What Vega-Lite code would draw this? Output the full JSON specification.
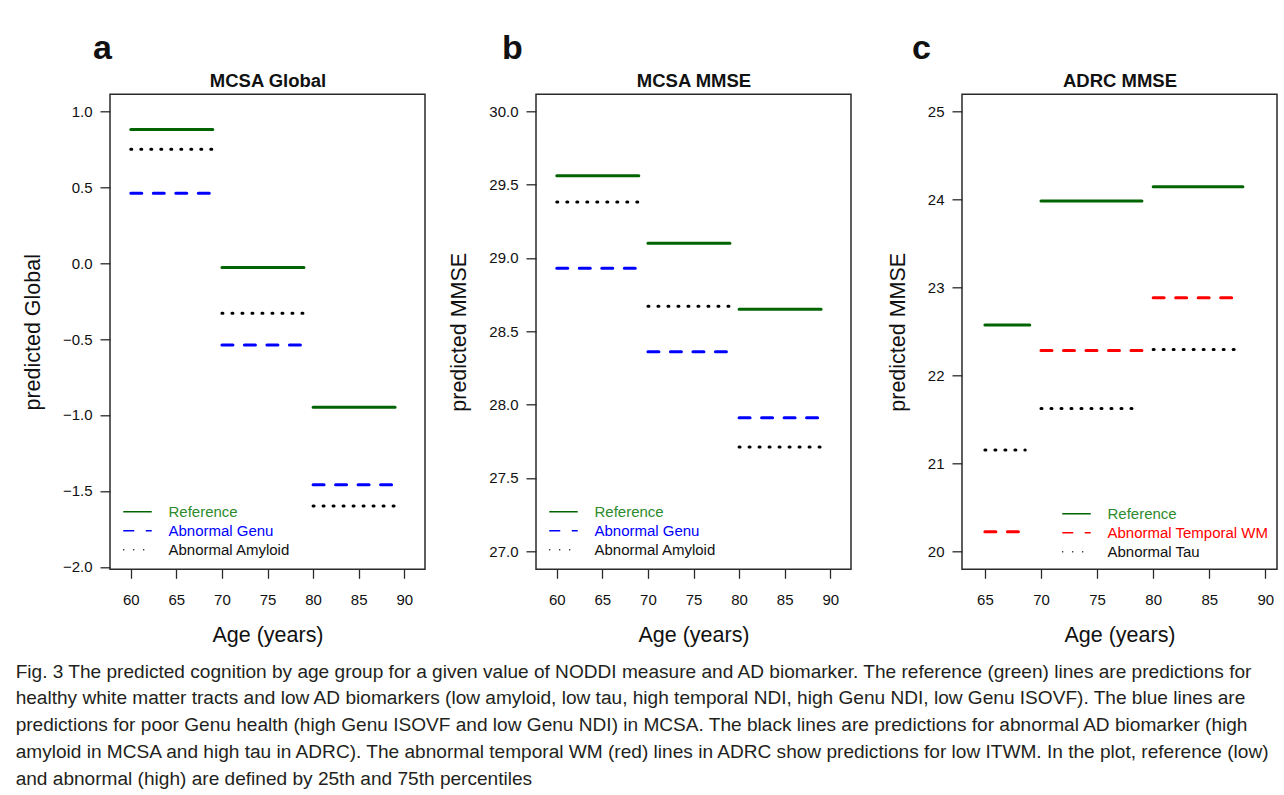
{
  "$schema": "https://vega.github.io/schema/vega-lite/v6.json",
  "background": "white",
  "autosize": {"type": "pad"},
  "padding": {"left": 15, "top": 30.3, "right": 0, "bottom": 4},
  "datasets": {
    "mcsa_global": [
      {"series": "Reference", "start": 60, "end": 69, "value": 0.88},
      {"series": "Reference", "start": 70, "end": 79, "value": -0.03},
      {"series": "Reference", "start": 80, "end": 89, "value": -0.95},
      {"series": "Abnormal Genu", "start": 60, "end": 69, "value": 0.46},
      {"series": "Abnormal Genu", "start": 70, "end": 79, "value": -0.54},
      {"series": "Abnormal Genu", "start": 80, "end": 89, "value": -1.46},
      {"series": "Abnormal Amyloid", "start": 60, "end": 69, "value": 0.75},
      {"series": "Abnormal Amyloid", "start": 70, "end": 79, "value": -0.33},
      {"series": "Abnormal Amyloid", "start": 80, "end": 89, "value": -1.60}
    ],
    "mcsa_mmse": [
      {"series": "Reference", "start": 60, "end": 69, "value": 29.56},
      {"series": "Reference", "start": 70, "end": 79, "value": 29.10},
      {"series": "Reference", "start": 80, "end": 89, "value": 28.65},
      {"series": "Abnormal Genu", "start": 60, "end": 69, "value": 28.93},
      {"series": "Abnormal Genu", "start": 70, "end": 79, "value": 28.36},
      {"series": "Abnormal Genu", "start": 80, "end": 89, "value": 27.91},
      {"series": "Abnormal Amyloid", "start": 60, "end": 69, "value": 29.38},
      {"series": "Abnormal Amyloid", "start": 70, "end": 79, "value": 28.67},
      {"series": "Abnormal Amyloid", "start": 80, "end": 89, "value": 27.71}
    ],
    "adrc_mmse": [
      {"series": "Reference", "start": 65, "end": 69, "value": 22.57},
      {"series": "Reference", "start": 70, "end": 79, "value": 23.98},
      {"series": "Reference", "start": 80, "end": 88, "value": 24.14},
      {"series": "Abnormal Temporal WM", "start": 65, "end": 68.3, "value": 20.22},
      {"series": "Abnormal Temporal WM", "start": 70, "end": 79, "value": 22.28},
      {"series": "Abnormal Temporal WM", "start": 80, "end": 87.3, "value": 22.88},
      {"series": "Abnormal Tau", "start": 65, "end": 68.6, "value": 21.15},
      {"series": "Abnormal Tau", "start": 70, "end": 78.6, "value": 21.62},
      {"series": "Abnormal Tau", "start": 80, "end": 87.6, "value": 22.29}
    ]
  },
  "title": {
    "text": "Fig. 3  The predicted cognition by age group for a given value of NODDI measure and AD biomarker. The reference (green) lines are predictions for",
    "subtitle": [
      "healthy white matter tracts and low AD biomarkers (low amyloid, low tau, high temporal NDI, high Genu NDI, low Genu ISOVF). The blue lines are",
      "predictions for poor Genu health (high Genu ISOVF and low Genu NDI) in MCSA. The black lines are predictions for abnormal AD biomarker (high",
      "amyloid in MCSA and high tau in ADRC). The abnormal temporal WM (red) lines in ADRC show predictions for low ITWM. In the plot, reference (low)",
      "and abnormal (high) are defined by 25th and 75th percentiles"
    ],
    "orient": "bottom",
    "anchor": "start",
    "frame": "bounds",
    "dx": -6,
    "offset": 16,
    "font": "Liberation Sans",
    "fontSize": 19.1,
    "fontWeight": "normal",
    "color": "#231f20",
    "subtitleFont": "Liberation Sans",
    "subtitleFontSize": 19.1,
    "subtitleFontWeight": "normal",
    "subtitleColor": "#231f20",
    "subtitleLineHeight": 26.75,
    "subtitlePadding": 7.65
  },
  "bounds": "flush",
  "spacing": 111,
  "resolve": {"scale": {"color": "independent", "strokeDash": "independent"}},
  "hconcat": [
    {
      "width": 315,
      "height": 475,
      "data": {"name": "mcsa_global"},
      "title": {"text": "a", "anchor": "start", "frame": "group", "dx": -17, "offset": 5.5},
      "layer": [
        {
          "mark": {"type": "rule", "strokeWidth": 3, "strokeCap": "round"},
          "encoding": {
            "x": {"field": "start", "type": "quantitative",
                  "scale": {"domain": [57.72, 92.28], "nice": false, "zero": false},
                  "axis": {"orient": "bottom", "values": [60, 65, 70, 75, 80, 85, 90], "title": "Age (years)"}},
            "x2": {"field": "end"},
            "y": {"field": "value", "type": "quantitative",
                  "scale": {"domain": [-2.016, 1.111], "nice": false, "zero": false},
                  "axis": {"values": [-2, -1.5, -1, -0.5, 0, 0.5, 1], "format": ".1f", "title": "predicted Global"}},
            "color": {"field": "series", "type": "nominal",
                      "scale": {"domain": ["Reference", "Abnormal Genu", "Abnormal Amyloid"], "range": ["#006400", "#0000ff", "#000000"]},
                      "legend": {"orient": "bottom-left", "offset": 10,
                                 "labelColor": {"expr": "datum.label === 'Reference' ? '#2e8b2e' : datum.label === 'Abnormal Genu' ? '#0000ff' : '#111111'"},
                                 "symbolDash": {"expr": "datum.label === 'Reference' ? [1, 0] : datum.label === 'Abnormal Genu' ? [7, 3.5] : [2, 3]"}}},
            "strokeDash": {"field": "series", "type": "nominal",
                           "scale": {"domain": ["Reference", "Abnormal Genu", "Abnormal Amyloid"], "range": [[1, 0], [11, 11.5], [1, 9]]},
                           "legend": null}
          }
        },
        {
          "mark": {"type": "rule", "opacity": 0},
          "encoding": {
            "x": {"field": "start", "type": "quantitative",
                  "axis": {"orient": "top", "title": "MCSA Global", "labels": false, "ticks": false, "domain": false, "titleFontSize": 18.5, "titleFontWeight": "bold", "titleBaseline": "alphabetic", "titlePadding": 8}}
          }
        }
      ],
      "resolve": {"axis": {"x": "independent"}}
    },
    {
      "width": 315,
      "height": 475,
      "data": {"name": "mcsa_mmse"},
      "title": {"text": "b", "anchor": "start", "frame": "group", "dx": -34, "offset": 5.5},
      "layer": [
        {
          "mark": {"type": "rule", "strokeWidth": 3, "strokeCap": "round"},
          "encoding": {
            "x": {"field": "start", "type": "quantitative",
                  "scale": {"domain": [57.72, 92.28], "nice": false, "zero": false},
                  "axis": {"orient": "bottom", "values": [60, 65, 70, 75, 80, 85, 90], "title": "Age (years)"}},
            "x2": {"field": "end"},
            "y": {"field": "value", "type": "quantitative",
                  "scale": {"domain": [26.877, 30.115], "nice": false, "zero": false},
                  "axis": {"values": [27, 27.5, 28, 28.5, 29, 29.5, 30], "format": ".1f", "title": "predicted MMSE"}},
            "color": {"field": "series", "type": "nominal",
                      "scale": {"domain": ["Reference", "Abnormal Genu", "Abnormal Amyloid"], "range": ["#006400", "#0000ff", "#000000"]},
                      "legend": {"orient": "bottom-left", "offset": 10,
                                 "labelColor": {"expr": "datum.label === 'Reference' ? '#2e8b2e' : datum.label === 'Abnormal Genu' ? '#0000ff' : '#111111'"},
                                 "symbolDash": {"expr": "datum.label === 'Reference' ? [1, 0] : datum.label === 'Abnormal Genu' ? [7, 3.5] : [2, 3]"}}},
            "strokeDash": {"field": "series", "type": "nominal",
                           "scale": {"domain": ["Reference", "Abnormal Genu", "Abnormal Amyloid"], "range": [[1, 0], [11, 11.5], [1, 9]]},
                           "legend": null}
          }
        },
        {
          "mark": {"type": "rule", "opacity": 0},
          "encoding": {
            "x": {"field": "start", "type": "quantitative",
                  "axis": {"orient": "top", "title": "MCSA MMSE", "labels": false, "ticks": false, "domain": false, "titleFontSize": 18.5, "titleFontWeight": "bold", "titleBaseline": "alphabetic", "titlePadding": 8}}
          }
        }
      ],
      "resolve": {"axis": {"x": "independent"}}
    },
    {
      "width": 315,
      "height": 475,
      "data": {"name": "adrc_mmse"},
      "title": {"text": "c", "anchor": "start", "frame": "group", "dx": -50, "offset": 5.5},
      "layer": [
        {
          "mark": {"type": "rule", "strokeWidth": 3, "strokeCap": "round"},
          "encoding": {
            "x": {"field": "start", "type": "quantitative",
                  "scale": {"domain": [62.96, 91.04], "nice": false, "zero": false},
                  "axis": {"orient": "bottom", "values": [65, 70, 75, 80, 85, 90], "title": "Age (years)"}},
            "x2": {"field": "end"},
            "y": {"field": "value", "type": "quantitative",
                  "scale": {"domain": [19.794, 25.191], "nice": false, "zero": false},
                  "axis": {"values": [20, 21, 22, 23, 24, 25], "format": "d", "title": "predicted MMSE"}},
            "color": {"field": "series", "type": "nominal",
                      "scale": {"domain": ["Reference", "Abnormal Temporal WM", "Abnormal Tau"], "range": ["#006400", "#ff0000", "#000000"]},
                      "legend": {"orient": "bottom-right", "offset": 8,
                                 "labelColor": {"expr": "datum.label === 'Reference' ? '#2e8b2e' : datum.label === 'Abnormal Temporal WM' ? '#ff0000' : '#111111'"},
                                 "symbolDash": {"expr": "datum.label === 'Reference' ? [1, 0] : datum.label === 'Abnormal Temporal WM' ? [7, 3.5] : [2, 3]"}}},
            "strokeDash": {"field": "series", "type": "nominal",
                           "scale": {"domain": ["Reference", "Abnormal Temporal WM", "Abnormal Tau"], "range": [[1, 0], [11, 11.5], [1, 9]]},
                           "legend": null}
          }
        },
        {
          "mark": {"type": "rule", "opacity": 0},
          "encoding": {
            "x": {"field": "start", "type": "quantitative",
                  "axis": {"orient": "top", "title": "ADRC MMSE", "labels": false, "ticks": false, "domain": false, "titleFontSize": 18.5, "titleFontWeight": "bold", "titleBaseline": "alphabetic", "titlePadding": 8}}
          }
        }
      ],
      "resolve": {"axis": {"x": "independent"}}
    }
  ],
  "config": {
    "font": "Liberation Sans",
    "view": {"stroke": "#2a2a2a", "strokeWidth": 1.5},
    "title": {"font": "Liberation Sans", "fontSize": 34, "fontWeight": "bold", "color": "#111111"},
    "axis": {
      "grid": false,
      "domain": false,
      "labelFont": "Liberation Sans",
      "labelFontSize": 15,
      "labelColor": "#111111",
      "labelFlush": false,
      "tickColor": "#2a2a2a",
      "tickWidth": 1.3,
      "titleFont": "Liberation Sans",
      "titleFontSize": 21.5,
      "titleFontWeight": "normal",
      "titleColor": "#111111"
    },
    "axisX": {"tickSize": 9, "labelPadding": 14, "titlePadding": 17},
    "axisY": {"tickSize": 10, "labelPadding": 8, "titlePadding": 18},
    "legend": {
      "title": null,
      "padding": 0,
      "symbolType": "stroke",
      "symbolSize": 812,
      "symbolStrokeWidth": 1.5,
      "symbolOffset": 2.5,
      "labelOffset": 16,
      "labelFont": "Liberation Sans",
      "labelFontSize": 15,
      "labelLimit": 300,
      "clipHeight": 19,
      "rowPadding": 0
    }
  }
}
